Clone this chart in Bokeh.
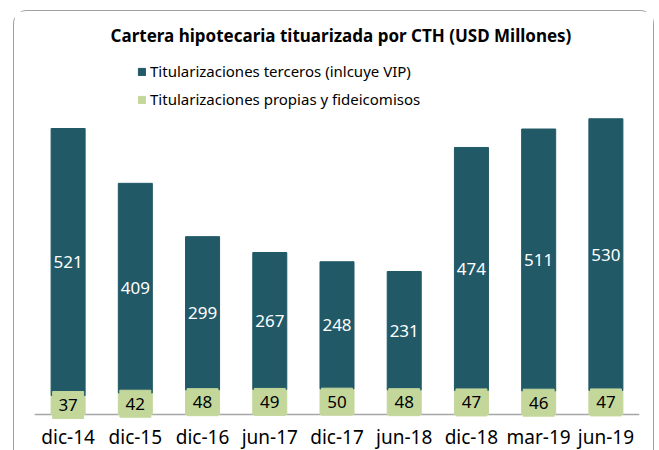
from bokeh.plotting import figure
from bokeh.models import ColumnDataSource, Span, Label, Legend, LegendItem, FactorRange
from bokeh.embed import file_html
from bokeh.resources import INLINE
from bokeh.core.properties import value

periods = ["dic-14", "dic-15", "dic-16", "jun-17", "dic-17", "jun-18", "dic-18", "mar-19", "jun-19"]
terceros = [521, 409, 299, 267, 248, 231, 474, 511, 530]
propias = [37, 42, 48, 49, 50, 48, 47, 46, 47]
title_text = "Cartera hipotecaria tituarizada por CTH (USD Millones)"
series_names = ["Titularizaciones terceros (inlcuye VIP)", "Titularizaciones propias y fideicomisos"]

TEAL = "#215967"
GREEN = "#c4d79b"
FONT = "Noto Sans"

tops = [a + b for a, b in zip(propias, terceros)]
src = ColumnDataSource(dict(
    period=periods,
    terceros=terceros,
    propias=propias,
    top=tops,
    tmid=[p_ + t / 2 for p_, t in zip(propias, terceros)],
    pmid=[p_ / 2 for p_ in propias],
    tlabel=[str(v) for v in terceros],
    plabel=[str(v) for v in propias],
))

p = figure(x_range=FactorRange(*periods), y_range=(-13.7, 786.3),
           frame_width=605, frame_height=410, output_backend="svg", toolbar_location=None,
           y_axis_location=None, min_border_left=20, min_border_right=14,
           min_border_top=0, min_border_bottom=0)
p.margin = (10, 0, 0, 13)
p.styles = {"border": "1px solid #a0a0a0", "border-bottom": "0",
            "border-radius": "14px 14px 0 0"}
p.outline_line_color = None
p.xgrid.visible = False
p.ygrid.visible = False
p.background_fill_color = "white"
p.border_fill_color = "white"

p.add_layout(Span(location=0, dimension="width", line_color="#a6a6a6",
                  line_width=1.5, level="underlay"))

g_r = p.vbar(x="period", top="propias", bottom=0, width=0.506, color=GREEN, source=src)
t_r = p.vbar(x="period", top="top", bottom="propias", width=0.506, color=TEAL, source=src)
p.rect(x="period", y="pmid", width=31, height=27, width_units="screen", height_units="screen",
       color=GREEN, source=src)
p.text(x="period", y="pmid", text="plabel", text_align="center", text_baseline="middle",
       text_font=value(FONT), text_font_size="17px", text_color="black", source=src)
p.text(x="period", y="tmid", text="tlabel", text_align="center", text_baseline="middle",
       text_font=value(FONT), text_font_size="17px", text_color="white", source=src)

p.add_layout(Label(x=4.5, y=740, x_offset=4, text=title_text, text_align="center",
                   text_baseline="middle", text_font=FONT, text_font_style="bold",
                   text_font_size="17px", text_color="black"))

legend = Legend(items=[LegendItem(label=series_names[0], renderers=[t_r]),
                       LegendItem(label=series_names[1], renderers=[g_r])],
                location=(103, 312), orientation="vertical", border_line_color=None,
                background_fill_alpha=0, padding=0, margin=0, spacing=8,
                glyph_width=9, glyph_height=9, label_standoff=4,
                label_text_font=FONT, label_text_font_size="15px", label_text_color="black")
p.add_layout(legend, "center")

p.xaxis.axis_line_color = None
p.xaxis.major_tick_line_color = None
p.xaxis.minor_tick_line_color = None
p.xaxis.major_tick_out = 0
p.xaxis.major_tick_in = 0
p.xaxis.minor_tick_out = 0
p.xaxis.major_label_standoff = 2
p.xaxis.major_label_text_font = FONT
p.xaxis.major_label_text_font_size = "19px"
p.xaxis.major_label_text_color = "black"

open("out.html", "w").write(file_html(p, INLINE))
